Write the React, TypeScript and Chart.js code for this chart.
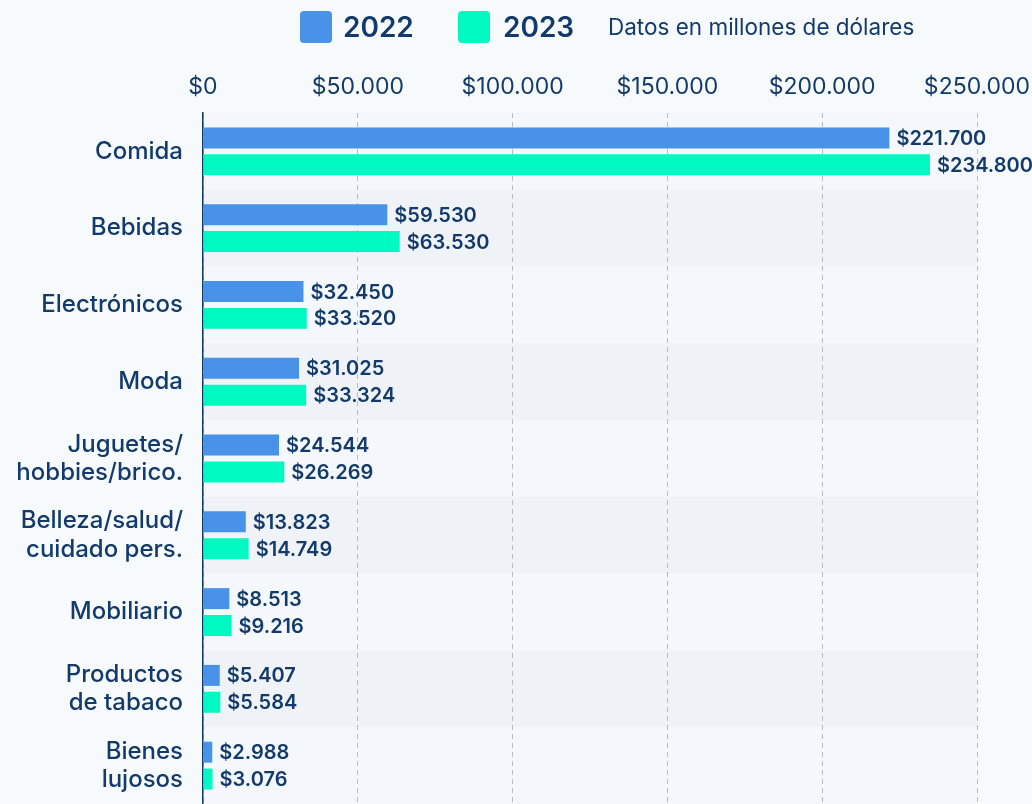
import React, { useEffect, useRef } from "react";
import { Chart, registerables } from "chart.js";

Chart.register(...registerables);

const categories: (string | string[])[] = [
  "Comida",
  "Bebidas",
  "Electrónicos",
  "Moda",
  ["Juguetes/", "hobbies/brico."],
  ["Belleza/salud/", "cuidado pers."],
  "Mobiliario",
  ["Productos", "de tabaco"],
  ["Bienes", "lujosos"],
];
const values2022 = [221700, 59530, 32450, 31025, 24544, 13823, 8513, 5407, 2988];
const values2023 = [234800, 63530, 33520, 33324, 26269, 14749, 9216, 5584, 3076];
const seriesNames = ["2022", "2023"];
const axisTicks = [0, 50000, 100000, 150000, 200000, 250000];
const note = "Datos en millones de dólares";

const NAVY = "#123a6b";
const BLUE = "#4893e8";
const TEAL = "#00f9c1";
const FONT = "Inter, 'Noto Sans', sans-serif";

const fmt = (v: number) =>
  "$" + Math.round(v).toString().replace(/\B(?=(\d{3})+(?!\d))/g, ".");

const bandsPlugin = {
  id: "bands",
  beforeDraw(chart: any) {
    const { ctx, chartArea } = chart;
    const y = chart.scales.y;
    const n = categories.length;
    const h = (chartArea.bottom - chartArea.top) / n;
    ctx.save();
    for (let i = 0; i < n; i++) {
      const c = y.getPixelForValue(i);
      ctx.fillStyle = i % 2 === 0 ? "#f4f7fb" : "#eff2f7";
      ctx.fillRect(chartArea.left, c - h / 2, chartArea.right - chartArea.left, h);
    }
    ctx.restore();
  },
};

const labelsPlugin = {
  id: "valueLabels",
  afterDatasetsDraw(chart: any) {
    const { ctx } = chart;
    ctx.save();
    ctx.font = `600 20px ${FONT}`;
    ctx.fillStyle = NAVY;
    ctx.textBaseline = "middle";
    ctx.textAlign = "left";
    chart.data.datasets.forEach((ds: any, di: number) => {
      const meta = chart.getDatasetMeta(di);
      meta.data.forEach((el: any, i: number) => {
        ctx.fillText(fmt(ds.data[i]), el.x + 7, el.y + 1);
      });
    });
    ctx.restore();
  },
};

export default function App() {
  const ref = useRef<HTMLCanvasElement | null>(null);

  useEffect(() => {
    if (!ref.current) return;
    const chart = new Chart(ref.current, {
      type: "bar",
      data: {
        labels: categories,
        datasets: [
          {
            label: seriesNames[0],
            data: values2022,
            backgroundColor: BLUE,
            categoryPercentage: 0.7,
            barPercentage: 0.78,
          },
          {
            label: seriesNames[1],
            data: values2023,
            backgroundColor: TEAL,
            categoryPercentage: 0.7,
            barPercentage: 0.78,
          },
        ],
      },
      options: {
        indexAxis: "y",
        animation: false,
        responsive: false,
        maintainAspectRatio: false,
        layout: { padding: { left: 0, right: 55, top: 0, bottom: 0 } },
        plugins: {
          legend: { display: false },
          tooltip: { enabled: false },
        },
        scales: {
          x: {
            position: "top",
            min: 0,
            max: 250000,
            afterBuildTicks: (scale: any) => {
              scale.ticks = axisTicks.map((v) => ({ value: v }));
            },
            afterFit: (scale: any) => {
              scale.height = 113;
              scale.paddingLeft = 0;
              scale.paddingRight = 0;
            },
            ticks: {
              color: NAVY,
              font: { family: FONT, size: 23, weight: "400" },
              padding: 12,
              maxRotation: 0,
              callback: (v: any) => fmt(Number(v)),
            },
            grid: { color: "#b7bcc3", lineWidth: 1, drawTicks: false },
            border: { display: false, dash: [5, 4] },
          },
          y: {
            afterFit: (scale: any) => {
              scale.width = 203;
              scale.paddingTop = 0;
              scale.paddingBottom = 0;
            },
            ticks: {
              color: NAVY,
              font: { family: FONT, size: 24, weight: "500", lineHeight: 1.17 },
              padding: 20,
            },
            grid: { display: false, drawTicks: false },
            border: { display: true, color: NAVY, width: 1.5 },
          },
        },
      },
      plugins: [bandsPlugin, labelsPlugin],
    });
    return () => chart.destroy();
  }, []);

  const sq = (left: number, color: string) => (
    <div
      style={{
        position: "absolute",
        left,
        top: 11,
        width: 32,
        height: 32,
        borderRadius: 4,
        background: color,
      }}
    />
  );
  const txt = (left: number, s: string, size: number, weight: number) => (
    <div
      style={{
        position: "absolute",
        left,
        top: 27,
        transform: "translateY(-50%)",
        fontFamily: FONT,
        fontSize: size,
        fontWeight: weight,
        color: NAVY,
        whiteSpace: "nowrap",
        lineHeight: 1,
      }}
    >
      {s}
    </div>
  );

  return (
    <div
      style={{
        position: "fixed",
        left: 0,
        top: 0,
        width: 1032,
        height: 804,
        background: "#f7fafd",
        overflow: "hidden",
      }}
    >
      <canvas ref={ref} width={1032} height={804} style={{ position: "absolute", left: 0, top: 0 }} />
      {sq(300, BLUE)}
      {txt(343, seriesNames[0], 28, 600)}
      {sq(458, TEAL)}
      {txt(503, seriesNames[1], 28, 600)}
      {txt(608, note, 22.5, 400)}
    </div>
  );
}
